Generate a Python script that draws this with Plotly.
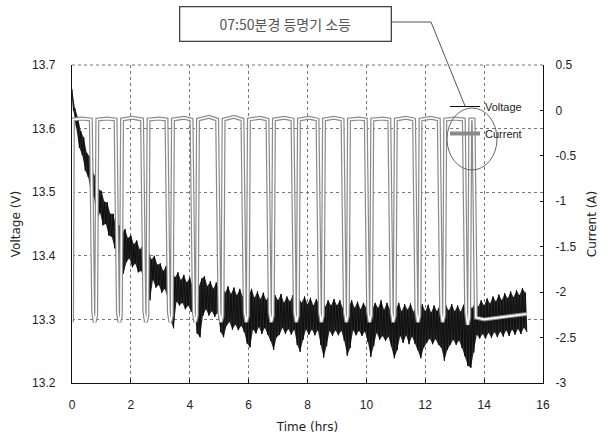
import numpy as np
import plotly.graph_objects as go

# ---------------- data ----------------
# Voltage band, sampled every 0.1 h: upper edge and lower edge of the noisy trace
volt_time = np.round(np.arange(0, 15.45, 0.1), 2)
volt_hi = [
    13.662, 13.632, 13.618, 13.596, 13.586, 13.562, 13.556, 13.532, 13.524, 13.505,
    13.502, 13.485, 13.484, 13.466, 13.466, 13.446, 13.448, 13.436, 13.442, 13.428,
    13.432, 13.418, 13.424, 13.410, 13.416, 13.400, 13.408, 13.394, 13.400, 13.386,
    13.388, 13.376, 13.384, 13.370, 13.378, 13.366, 13.374, 13.362, 13.370, 13.358,
    13.366, 13.352, 13.362, 13.350, 13.364, 13.368, 13.352, 13.360, 13.348, 13.358,
    13.346, 13.354, 13.342, 13.352, 13.340, 13.350, 13.338, 13.348, 13.336, 13.346,
    13.338, 13.348, 13.334, 13.344, 13.332, 13.342, 13.330, 13.340, 13.328, 13.338,
    13.330, 13.340, 13.326, 13.336, 13.328, 13.338, 13.324, 13.334, 13.326, 13.336,
    13.324, 13.334, 13.322, 13.332, 13.324, 13.334, 13.320, 13.330, 13.322, 13.332,
    13.322, 13.330, 13.318, 13.328, 13.320, 13.330, 13.318, 13.328, 13.316, 13.326,
    13.318, 13.328, 13.316, 13.326, 13.318, 13.330, 13.315, 13.326, 13.316, 13.325,
    13.316, 13.326, 13.313, 13.324, 13.315, 13.325, 13.312, 13.322, 13.314, 13.324,
    13.313, 13.323, 13.311, 13.322, 13.313, 13.324, 13.312, 13.322, 13.314, 13.324,
    13.313, 13.322, 13.312, 13.323, 13.314, 13.320, 13.318, 13.328, 13.320, 13.330,
    13.322, 13.333, 13.325, 13.336, 13.328, 13.339, 13.330, 13.341, 13.333, 13.344,
    13.335, 13.346, 13.338, 13.349, 13.342,
]
volt_lo = [
    13.628, 13.602, 13.570, 13.558, 13.534, 13.524, 13.498, 13.492, 13.455, 13.468,
    13.448, 13.450, 13.432, 13.430, 13.412, 13.408, 13.380, 13.372, 13.390, 13.396,
    13.382, 13.388, 13.374, 13.376, 13.362, 13.336, 13.330, 13.362, 13.350, 13.354,
    13.342, 13.348, 13.334, 13.298, 13.286, 13.328, 13.322, 13.326, 13.316, 13.322,
    13.312, 13.318, 13.278, 13.272, 13.306, 13.316, 13.306, 13.313, 13.304, 13.311,
    13.280, 13.272, 13.290, 13.296, 13.284, 13.292, 13.283, 13.290, 13.280, 13.262,
    13.256, 13.284, 13.278, 13.288, 13.277, 13.287, 13.276, 13.266, 13.252, 13.272,
    13.276, 13.287, 13.277, 13.285, 13.276, 13.284, 13.260, 13.249, 13.268, 13.284,
    13.276, 13.284, 13.275, 13.283, 13.260, 13.240, 13.258, 13.282, 13.274, 13.283,
    13.275, 13.282, 13.266, 13.243, 13.255, 13.283, 13.275, 13.282, 13.274, 13.281,
    13.265, 13.241, 13.258, 13.279, 13.268, 13.274, 13.266, 13.273, 13.258, 13.239,
    13.252, 13.274, 13.263, 13.275, 13.261, 13.273, 13.262, 13.252, 13.239, 13.256,
    13.263, 13.270, 13.261, 13.269, 13.260, 13.255, 13.235, 13.252, 13.260, 13.268,
    13.260, 13.267, 13.255, 13.242, 13.227, 13.224, 13.248, 13.276, 13.270, 13.277,
    13.270, 13.279, 13.271, 13.280, 13.272, 13.281, 13.273, 13.283, 13.274, 13.284,
    13.276, 13.285, 13.277, 13.287, 13.280,
]

# Current trace (square wave), time in hours and current in A
current_time = [
    0.00, 0.03, 0.35, 0.64, 0.72, 0.77, 0.82, 0.86,
    1.20, 1.48, 1.56, 1.61, 1.66, 1.70,
    2.05, 2.38, 2.46, 2.51, 2.56, 2.60,
    2.95, 3.21, 3.29, 3.34, 3.39, 3.43,
    3.80, 4.06, 4.14, 4.19, 4.24, 4.28,
    4.65, 4.93, 5.01, 5.06, 5.11, 5.15,
    5.50, 5.79, 5.87, 5.92, 5.97, 6.01,
    6.38, 6.64, 6.72, 6.77, 6.82, 6.86,
    7.22, 7.49, 7.57, 7.62, 7.67, 7.71,
    8.05, 8.34, 8.42, 8.47, 8.52, 8.56,
    8.90, 9.19, 9.27, 9.32, 9.37, 9.41,
    9.75, 9.98, 10.06, 10.11, 10.16, 10.20,
    10.55, 10.78, 10.86, 10.91, 10.96, 11.00,
    11.35, 11.62, 11.70, 11.75, 11.80, 11.84,
    12.20, 12.46, 12.54, 12.59, 12.64, 12.68,
    13.00, 13.31, 13.39, 13.44, 13.49, 13.53,
    13.64, 13.72, 14.00, 14.50, 15.00, 15.45,
]
current_value = [
    -2.33, -0.10, -0.09, -0.10, -2.22, -2.33, -2.26, -0.10,
    -0.09, -0.10, -2.22, -2.33, -2.26, -0.10,
    -0.08, -0.10, -2.22, -2.33, -2.26, -0.10,
    -0.09, -0.10, -2.22, -2.33, -2.26, -0.10,
    -0.08, -0.10, -2.22, -2.33, -2.26, -0.10,
    -0.07, -0.10, -2.22, -2.33, -2.26, -0.10,
    -0.07, -0.10, -2.22, -2.33, -2.26, -0.10,
    -0.08, -0.10, -2.22, -2.33, -2.26, -0.10,
    -0.08, -0.10, -2.22, -2.33, -2.26, -0.10,
    -0.08, -0.10, -2.22, -2.33, -2.26, -0.10,
    -0.08, -0.10, -2.22, -2.33, -2.26, -0.10,
    -0.09, -0.10, -2.22, -2.33, -2.26, -0.10,
    -0.09, -0.10, -2.22, -2.33, -2.26, -0.10,
    -0.08, -0.10, -2.22, -2.33, -2.26, -0.10,
    -0.08, -0.10, -2.22, -2.33, -2.26, -0.10,
    -0.09, -0.10, -2.22, -2.36, -2.28, -0.10,
    -0.10, -2.28, -2.30, -2.28, -2.26, -2.24,
]

x_ticks = [0, 2, 4, 6, 8, 10, 12, 14, 16]
volt_ticks = [13.2, 13.3, 13.4, 13.5, 13.6, 13.7]
curr_ticks = [0.5, 0, -0.5, -1, -1.5, -2, -2.5, -3]
curr_ticktext = ["0.5", "0", "-0.5", "-1", "-1.5", "-2", "-2.5", "-3"]
note_text = "07:50분경 등명기 소등"

# ---------------- build traces ----------------
vx, vy = [], []
for t, hi, lo in zip(volt_time, volt_hi, volt_lo):
    vx += [t, t + 0.05]
    vy += [hi, lo]

# band outline polygon (upper edge forward, lower edge backward)
band_x = list(volt_time) + [t + 0.05 for t in volt_time][::-1]
band_y = list(volt_hi) + list(volt_lo)[::-1]

fig = go.Figure()
fig.add_trace(go.Scatter(
    x=band_x, y=band_y, mode="lines", fill="toself", fillcolor="#2a2a2a",
    line=dict(width=0, color="#2a2a2a"), showlegend=False, hoverinfo="skip",
    legendgroup="v", yaxis="y",
))
fig.add_trace(go.Scatter(
    x=vx, y=vy, mode="lines", name="Voltage", legendgroup="v",
    line=dict(color="#0d0d0d", width=1), yaxis="y",
))
fig.add_trace(go.Scatter(
    x=current_time, y=current_value, mode="lines", name="Current", legendgroup="c",
    line=dict(color="#8a8a8a", width=4), yaxis="y2",
))
fig.add_trace(go.Scatter(
    x=current_time, y=current_value, mode="lines", name="Current", legendgroup="c",
    showlegend=False, hoverinfo="skip",
    line=dict(color="#ffffff", width=1.6), yaxis="y2",
))

# ---------------- layout ----------------
L, R, T, B = 72, 67, 65, 60
W, H = 610, 443
pw, ph = W - L - R, H - T - B


def px(x):
    return (x - L) / pw


def py(y):
    return (H - B - y) / ph


tick_font = dict(family="Liberation Sans, Arial, sans-serif", size=12, color="#222")
title_font = dict(family="DejaVu Sans, Verdana, sans-serif", size=12, color="#222")

fig.update_layout(
    width=W, height=H,
    margin=dict(l=L, r=R, t=T, b=B, autoexpand=False),
    paper_bgcolor="white", plot_bgcolor="white",
    showlegend=True,
    legend=dict(
        x=px(445), y=py(92), xanchor="left", yanchor="top",
        bgcolor="rgba(0,0,0,0)", borderwidth=0,
        font=dict(family="Liberation Sans, Arial, sans-serif", size=11, color="#222"),
        itemwidth=30, traceorder="grouped", tracegroupgap=8,
    ),
    xaxis=dict(
        range=[0, 16], tickvals=x_ticks, showgrid=True, gridcolor="#777",
        griddash="dot", gridwidth=1, zeroline=False,
        showline=True, linecolor="#111", linewidth=1.3,
        ticks="inside", ticklen=4, tickcolor="#111",
        tickfont=tick_font, ticklabelstandoff=10,
        title=dict(text="Time (hrs)", font=title_font, standoff=12),
    ),
    yaxis=dict(
        range=[13.2, 13.7], tickvals=volt_ticks, tickformat=".1f",
        showgrid=True, gridcolor="#777", griddash="dot", gridwidth=1,
        zeroline=False, showline=True, linecolor="#111", linewidth=1.3,
        ticks="", tickfont=tick_font, ticklabelstandoff=13,
        title=dict(text="Voltage (V)", font=title_font, standoff=8),
    ),
    yaxis2=dict(
        range=[-3, 0.5], tickvals=curr_ticks, ticktext=curr_ticktext,
        overlaying="y", side="right", showgrid=False, zeroline=False,
        showline=True, linecolor="#111", linewidth=1.3,
        ticks="inside", ticklen=3, tickcolor="#111",
        tickfont=tick_font, ticklabelstandoff=9,
        title=dict(text="Current (A)", font=title_font, standoff=12),
    ),
    annotations=[
        dict(
            text=note_text, xref="paper", yref="paper",
            x=px(285), y=py(24), xanchor="center", yanchor="middle",
            showarrow=False, width=206, height=29,
            bordercolor="#444", borderwidth=1.3, borderpad=2, bgcolor="white",
            font=dict(family="Noto Sans CJK KR, sans-serif", size=14, color="#555"),
        )
    ],
    shapes=[
        dict(type="line", xref="paper", yref="paper",
             x0=px(392), y0=py(22), x1=px(431), y1=py(22),
             line=dict(color="#555", width=1)),
        dict(type="line", xref="paper", yref="paper",
             x0=px(431), y0=py(22), x1=px(465), y1=py(106),
             line=dict(color="#555", width=1)),
        dict(type="circle", xref="paper", yref="paper",
             x0=px(447), y0=py(170), x1=px(497), y1=py(108),
             line=dict(color="#666", width=1)),
        dict(type="line", xref="paper", yref="paper",
             x0=0, y0=1, x1=1, y1=1,
             line=dict(color="#777", width=1, dash="dot")),
    ],
)

fig.write_html("out.html")
